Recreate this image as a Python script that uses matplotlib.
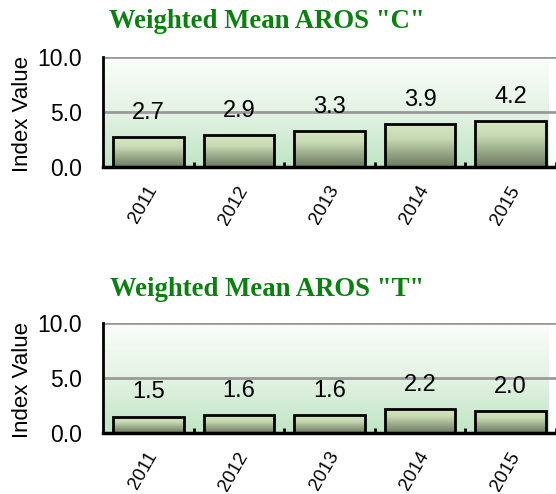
import numpy as np
import matplotlib
matplotlib.use('Agg')
import matplotlib.pyplot as plt
from matplotlib.colors import LinearSegmentedColormap

years = ['2011', '2012', '2013', '2014', '2015']
aros_c = [2.7, 2.9, 3.3, 3.9, 4.2]
aros_t = [1.5, 1.6, 1.6, 2.2, 2.0]
titles = ['Weighted Mean AROS "C"', 'Weighted Mean AROS "T"']
yticks = [0.0, 5.0, 10.0]

plt.rcParams['font.family'] = ['Liberation Sans', 'DejaVu Sans']

bg_cmap = LinearSegmentedColormap.from_list('bg', ['#bfe5c4', '#e4f3e4', '#fbfdfb'])
bar_cmap = LinearSegmentedColormap.from_list('bar', ['#6c7a60', '#98a888', '#c8dab4', '#d6e6c2'])
grad = np.linspace(0, 1, 256).reshape(-1, 1)


def draw_panel(ax, values):
	n = len(values)
	x = np.arange(n)
	ax.set_xlim(-0.5, 4.42)
	ax.set_ylim(0, 10)

	# soft green background
	ax.imshow(grad, cmap=bg_cmap, origin='lower', aspect='auto',
		extent=[-0.5, 4.42, 0, 10], zorder=0)
	for y in [5.0, 10.0]:
		ax.axhline(y, color='#9a9a9a', lw=2, zorder=1)

	bars = ax.bar(x, values, width=0.78, facecolor='none', edgecolor='black',
		linewidth=2, zorder=3)
	for b in bars:
		x0, y0 = b.get_x(), b.get_y()
		im = ax.imshow(grad, cmap=bar_cmap, origin='lower', aspect='auto',
			extent=[x0, x0 + b.get_width(), y0, y0 + b.get_height()], zorder=2)
		im.set_clip_path(b)

	for xi, v in zip(x, values):
		ax.annotate('%.1f' % v, (xi, v), xytext=(0, 13), textcoords='offset points',
			ha='center', va='baseline', fontsize=17, zorder=4)

	# year labels, slanted under each bar
	ax.set_xticks(x)
	ax.set_xticklabels([])
	ax.tick_params(axis='x', which='major', length=0)
	for xi, yr in zip(x, years):
		ax.annotate(yr, (xi, 0), xytext=(5, -20), textcoords='offset pixels',
			rotation=60, ha='right', va='center', rotation_mode='anchor',
			fontsize=13.5, annotation_clip=False)
	ax.set_xticks(np.arange(n) + 0.5, minor=True)
	ax.tick_params(axis='x', which='minor', direction='in', length=3.5, width=2, color='black')

	ax.set_yticks(yticks)
	ax.set_yticklabels(['%.1f' % t for t in yticks], fontsize=16.5)
	ax.tick_params(axis='y', length=0, pad=15)
	ax.set_ylabel('Index Value', fontsize=16)
	ax.yaxis.set_label_coords(-70 / 453, 0.48)

	for s in ['top', 'right']:
		ax.spines[s].set_visible(False)
	ax.spines['left'].set_linewidth(2)
	ax.spines['bottom'].set_linewidth(2.5)
	ax.spines['left'].set_zorder(5)
	ax.spines['bottom'].set_zorder(5)


fig = plt.figure(figsize=(5.56, 4.94), dpi=100)
ax1 = fig.add_axes([103 / 556, 327 / 494, 453 / 556, 110 / 494])
ax2 = fig.add_axes([103 / 556, 61 / 494, 453 / 556, 110 / 494])
draw_panel(ax1, aros_c)
draw_panel(ax2, aros_t)

fig.text(267 / 556, 1 - 22 / 494, titles[0], ha='center', va='center', fontsize=19.3,
	fontweight='bold', family='Liberation Serif', color='#0a800f')
fig.text(267 / 556, 1 - 290 / 494, titles[1], ha='center', va='center', fontsize=19.3,
	fontweight='bold', family='Liberation Serif', color='#0a800f')

fig.savefig('out.png', dpi=100)
